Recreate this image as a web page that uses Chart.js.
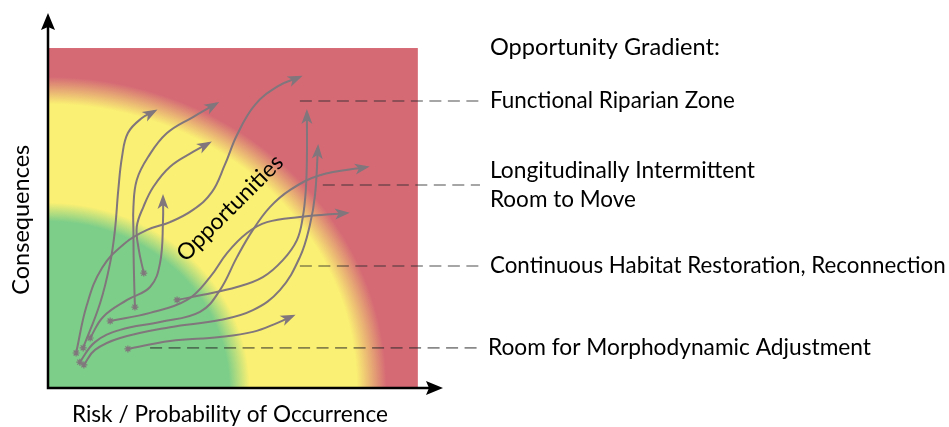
<!DOCTYPE html>
<html>
<head>
<meta charset="utf-8">
<script src="https://cdn.jsdelivr.net/npm/chart.js@4.4.1/dist/chart.umd.min.js"></script>
<style>
  html, body { margin: 0; padding: 0; background: #ffffff; }
  canvas { display: block; }
</style>
</head>
<body>
<canvas id="gradient-chart" width="949" height="427"></canvas>
<script>
// Axes are in "percent of the square": risk (x) and consequences (y), 0..100
const AXIS_X_END = 106.8;   // arrow tip of the risk axis
const AXIS_Y_END = 110.3;   // arrow tip of the consequences axis

// Opportunity paths, [risk, consequence] pairs, start marked with an asterisk, end with an arrow
const pathA = [[9.5,11.8],[14.1,25.0],[16.8,36.8],[18.1,46.5],[19.0,58.2],[20.0,67.9],[21.6,75.0],[25.4,79.4],[28.9,81.5]];
const pathB = [[23.5,23.8],[23.2,35.6],[23.1,45.6],[23.1,53.3],[24.0,61.2],[27.1,68.0],[32.1,74.9],[39.2,79.7],[45.6,83.7]];
const pathC = [[25.9,33.8],[24.5,41.0],[24.0,47.4],[25.8,53.3],[28.5,59.2],[33.0,65.1],[39.3,69.5],[43.6,72.1]];
const pathD = [[7.6,10.3],[10.5,24.4],[14.6,35.3],[20.8,42.6],[26.8,46.5],[33.0,48.8],[39.2,52.4],[44.3,57.6],[47.8,65.6],[51.1,74.4],[55.9,83.2],[62.2,88.8],[68.1,91.5]];
const pathE = [[11.4,14.7],[14.9,20.9],[21.4,25.9],[27.6,29.7],[30.3,36.8],[31.1,49.4],[31.1,56.2]];
const pathF = [[21.6,11.5],[33.0,13.8],[46.5,15.0],[55.4,16.5],[61.9,19.1],[66.2,21.2]];
const pathG = [[34.9,25.9],[41.9,27.4],[51.1,29.7],[58.1,32.6],[63.5,37.6],[67.3,43.5],[68.9,50.3],[69.7,58.2],[70.0,67.1],[70.0,81.2]];
const pathH = [[9.7,6.8],[12.7,11.2],[19.5,14.7],[33.0,17.9],[46.5,20.0],[55.4,22.9],[62.7,28.8],[68.1,38.5],[70.8,47.9],[72.2,56.8],[73.0,70.9]];
const pathI = [[16.8,19.7],[27.6,22.1],[37.6,25.9],[43.8,32.6],[48.4,39.7],[53.8,45.6],[59.2,48.8],[68.1,50.3],[80.8,51.5]];
const pathJ = [[8.6,7.6],[12.7,13.5],[19.5,17.1],[30.3,19.4],[41.1,22.4],[46.5,28.8],[51.1,38.5],[55.4,46.5],[60.0,53.2],[65.4,58.2],[73.5,62.6],[86.2,65.0]];
const paths = [pathA, pathB, pathC, pathD, pathE, pathF, pathG, pathH, pathI, pathJ];

// Opportunity gradient legend: label lines, level of the leader line, where the leader starts
const gradientTitle = 'Opportunity Gradient:';
const gradientTitleLevel = 100.3;
const gradientLabels = [
    ['Functional Riparian Zone'],
    ['Longitudinally Intermittent', 'Room to Move'],
    ['Continuous Habitat Restoration, Reconnection'],
    ['Room for Morphodynamic Adjustment'],
];
const gradientLevels = [84.4, 59.7, 35.9, 11.8];
const leaderStarts = [68.1, 74.3, 68.1, 27.6];
const leaderEnd = 116.8;
const labelStart = 119.5;

// Zones, as radius from the origin (percent of the square)
const zoneColors = ['#7dce89', '#faf073', '#d56a75'];
const zoneStops = [[0.49, 0.545], [0.835, 0.915]];

const centerWord = 'Opportunities';
const centerWordAt = [49.2, 52.9];
const xTitle = 'Risk / Probability of Occurrence';
const yTitle = 'Consequences';

const FONT = 'Lato, "Open Sans", sans-serif';
const ARROW_GRAY = '#80767c';

// Text widths measured on the original drawing, in px (font is scaled to fit)
const textWidths = {
    [xTitle]: 316,
    [yTitle]: 150,
    [centerWord]: 140,
    [gradientTitle]: 230,
    'Functional Riparian Zone': 245,
    'Longitudinally Intermittent': 265,
    'Room to Move': 146,
    'Continuous Habitat Restoration, Reconnection': 456,
    'Room for Morphodynamic Adjustment': 383,
};

function setFittedFont(ctx, text, base) {
    ctx.font = base + 'px ' + FONT;
    const w = ctx.measureText(text).width;
    const target = textWidths[text];
    const size = target ? base * target / w : base;
    ctx.font = size.toFixed(2) + 'px ' + FONT;
}

// Radial (in data space) green-yellow-red background
const zoneBackground = {
    id: 'zoneBackground',
    beforeDatasetsDraw(chart) {
        const { ctx, scales: { x, y } } = chart;
        const x0 = x.getPixelForValue(0), y0 = y.getPixelForValue(0);
        const w = x.getPixelForValue(100) - x0;
        const h = y0 - y.getPixelForValue(100);
        ctx.save();
        ctx.translate(x0, y0);
        ctx.scale(1, h / w);
        const g = ctx.createRadialGradient(0, 0, 0, 0, 0, w);
        g.addColorStop(0, zoneColors[0]);
        g.addColorStop(zoneStops[0][0], zoneColors[0]);
        g.addColorStop(zoneStops[0][1], zoneColors[1]);
        g.addColorStop(zoneStops[1][0], zoneColors[1]);
        g.addColorStop(zoneStops[1][1], zoneColors[2]);
        g.addColorStop(1, zoneColors[2]);
        ctx.fillStyle = g;
        ctx.fillRect(0, -w, w, w);
        ctx.restore();
    }
};

function drawHead(ctx, tipX, tipY, ux, uy, len, width, notch, color) {
    const nx = -uy, ny = ux;
    ctx.beginPath();
    ctx.moveTo(tipX, tipY);
    ctx.lineTo(tipX - ux * len + nx * width / 2, tipY - uy * len + ny * width / 2);
    ctx.lineTo(tipX - ux * (len - notch), tipY - uy * (len - notch));
    ctx.lineTo(tipX - ux * len - nx * width / 2, tipY - uy * len - ny * width / 2);
    ctx.closePath();
    ctx.fillStyle = color;
    ctx.fill();
}

// Arrow heads at the end of each opportunity path
const pathArrows = {
    id: 'pathArrows',
    afterDatasetsDraw(chart) {
        const ctx = chart.ctx;
        chart.data.datasets.forEach((ds, i) => {
            if (!ds.isPath) return;
            const pts = chart.getDatasetMeta(i).data;
            const last = pts[pts.length - 1];
            const prev = pts[pts.length - 2];
            let dx = last.x - (last.cp1x ?? prev.x);
            let dy = last.y - (last.cp1y ?? prev.y);
            const d = Math.hypot(dx, dy) || 1;
            dx /= d; dy /= d;
            ctx.save();
            drawHead(ctx, last.x + dx * 3, last.y + dy * 3, dx, dy, 15, 11, 4, ARROW_GRAY);
            ctx.restore();
        });
    }
};

// Axes with arrow heads, titles and the legend texts
const annotations = {
    id: 'annotations',
    afterDraw(chart) {
        const { ctx, scales: { x, y } } = chart;
        const ox = x.getPixelForValue(0), oy = y.getPixelForValue(0);
        const xt = x.getPixelForValue(AXIS_X_END), yt = y.getPixelForValue(AXIS_Y_END);
        ctx.save();
        ctx.strokeStyle = '#000';
        ctx.lineWidth = 2.5;
        ctx.beginPath();
        ctx.moveTo(ox, yt + 8);
        ctx.lineTo(ox, oy);
        ctx.lineTo(xt - 8, oy);
        ctx.stroke();
        drawHead(ctx, ox, yt, 0, -1, 17, 14, 3, '#000');
        drawHead(ctx, xt, oy, 1, 0, 17, 14, 3, '#000');

        ctx.fillStyle = '#000';
        ctx.textAlign = 'center';
        ctx.textBaseline = 'alphabetic';
        setFittedFont(ctx, xTitle, 22);
        ctx.fillText(xTitle, x.getPixelForValue(50) - 3, oy + 34);

        ctx.save();
        ctx.translate(ox - 27, y.getPixelForValue(49.5));
        ctx.rotate(-Math.PI / 2);
        ctx.textBaseline = 'middle';
        setFittedFont(ctx, yTitle, 22);
        ctx.fillText(yTitle, 0, 0);
        ctx.restore();

        ctx.save();
        ctx.translate(x.getPixelForValue(centerWordAt[0]), y.getPixelForValue(centerWordAt[1]));
        ctx.rotate(-Math.PI / 4);
        ctx.textBaseline = 'middle';
        setFittedFont(ctx, centerWord, 22);
        ctx.fillText(centerWord, 0, 0);
        ctx.restore();

        ctx.textAlign = 'left';
        ctx.textBaseline = 'middle';
        const lx = x.getPixelForValue(labelStart);
        setFittedFont(ctx, gradientTitle, 22);
        ctx.fillText(gradientTitle, lx, y.getPixelForValue(gradientTitleLevel));
        gradientLabels.forEach((lines, i) => {
            const cy = y.getPixelForValue(gradientLevels[i]);
            const lh = 29;
            lines.forEach((t, j) => {
                const off = (j - (lines.length - 1) / 2) * lh;
                setFittedFont(ctx, t, 22);
                ctx.fillText(t, lx - (i === 3 ? 2 : 0), cy + off);
            });
        });
        ctx.restore();
    }
};

const pathDatasets = paths.map(p => ({
    isPath: true,
    data: p.map(([rx, cy]) => ({ x: rx, y: cy })),
    borderColor: ARROW_GRAY,
    borderWidth: 2,
    tension: 0.4,
    fill: false,
    pointStyle: 'star',
    pointRadius: ctx => ctx.dataIndex === 0 ? 3.5 : 0,
    pointBorderColor: ARROW_GRAY,
    pointBorderWidth: 1.2,
    pointBackgroundColor: ARROW_GRAY,
}));

const leaderDatasets = gradientLevels.map((lvl, i) => ({
    data: [{ x: leaderStarts[i], y: lvl }, { x: leaderEnd, y: lvl }],
    borderColor: 'rgba(40, 40, 40, 0.55)',
    borderWidth: 1.6,
    borderDash: [12, 6.5],
    pointRadius: 0,
    tension: 0,
    clip: false,
}));

new Chart(document.getElementById('gradient-chart'), {
    type: 'line',
    data: { datasets: [...leaderDatasets, ...pathDatasets] },
    plugins: [zoneBackground, pathArrows, annotations],
    options: {
        responsive: false,
        animation: false,
        devicePixelRatio: 1,
        layout: { padding: { left: 48, right: 506, top: 13, bottom: 39 } },
        plugins: { legend: { display: false }, tooltip: { enabled: false } },
        scales: {
            x: { type: 'linear', min: 0, max: AXIS_X_END, display: false },
            y: { type: 'linear', min: 0, max: AXIS_Y_END, display: false },
        }
    }
});
</script>
</body>
</html>
